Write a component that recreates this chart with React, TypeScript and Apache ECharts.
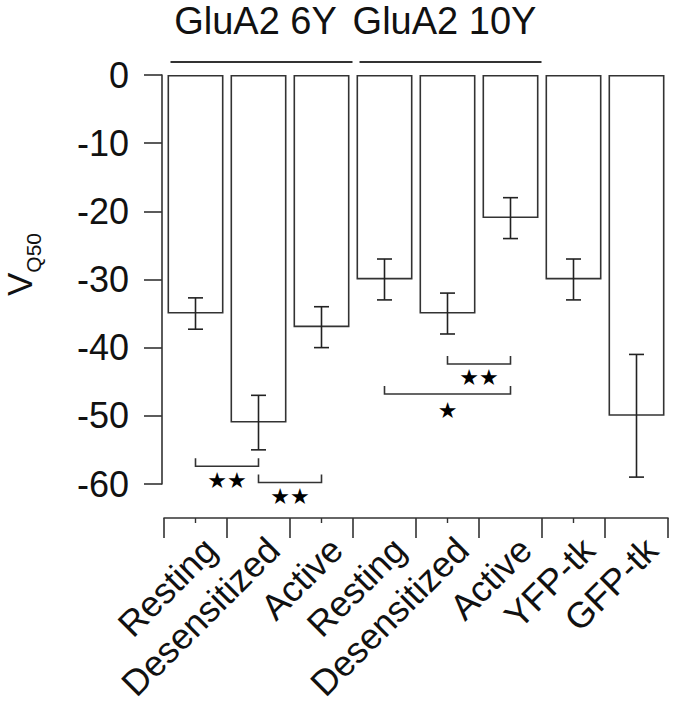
import React, { useEffect, useRef } from 'react';
import * as echarts from 'echarts';

const categories = ['Resting', 'Desensitized', 'Active', 'Resting', 'Desensitized', 'Active', 'YFP-tk', 'GFP-tk'];
const means = [-35, -51, -37, -30, -35, -21, -30, -50];
const errors = [2.3, 4, 3, 3, 3, 3, 3, 9];
const yTicks = [0, -10, -20, -30, -40, -50, -60];

const groupLabels = ['GluA2 6Y', 'GluA2 10Y'];
const groupStart = [0, 3];
const groupEnd = [2, 5];

const sigFrom = [0, 1, 4, 3];
const sigTo = [1, 2, 5, 5];
const sigY = [-57.4, -59.8, -42.4, -46.8];
const sigLabels = ['★★', '★★', '★★', '★'];

const FONT = '"Liberation Sans", Arial, Helvetica, sans-serif';
const INK = '#333';

export default function App() {
  const ref = useRef<HTMLDivElement>(null);
  useEffect(() => {
    const chart = echarts.init(ref.current!, null, { renderer: 'svg' });
    const option: any = {
      animation: false,
      backgroundColor: '#fff',
      grid: [
        { left: 164, top: 75, width: 504, height: 443, containLabel: false, outerBoundsMode: 'none' },
        { left: 162, top: 75, width: 2, height: 409, containLabel: false, outerBoundsMode: 'none' },
      ],
      xAxis: [
        {
          type: 'category',
          gridIndex: 0,
          data: categories,
          position: 'bottom',
          axisLine: { show: true, onZero: false, lineStyle: { color: INK, width: 1.6 } },
          axisTick: { show: true, length: 20, lineStyle: { color: INK, width: 1.6 } },
          axisLabel: {
            interval: 0,
            rotate: 45,
            fontSize: 36,
            fontFamily: FONT,
            color: '#111',
            margin: 11,
            align: 'right',
            verticalAlign: 'top',
            lineHeight: 42,
          },
        },
        {
          type: 'category',
          gridIndex: 0,
          data: categories,
          position: 'bottom',
          axisLine: { show: false, onZero: false },
          axisTick: { show: true, alignWithLabel: true, length: 5, lineStyle: { color: INK, width: 1.4 } },
          axisLabel: { show: false },
        },
        { type: 'value', gridIndex: 1, show: false },
      ],
      yAxis: [
        { type: 'value', gridIndex: 0, min: -65, max: 0, show: false },
        {
          type: 'value',
          gridIndex: 1,
          min: -60,
          max: 0,
          interval: 10,
          position: 'left',
          axisLine: { show: true, lineStyle: { color: INK, width: 1.6 } },
          axisTick: { show: true, length: 18, lineStyle: { color: INK, width: 1.6 } },
          splitLine: { show: false },
          axisLabel: {
            fontSize: 36,
            fontFamily: FONT,
            color: '#111',
            margin: 33,
            formatter: (v: number) => (yTicks.includes(v) ? String(v) : ''),
          },
        },
      ],
      graphic: [
        {
          type: 'text',
          x: 19.5,
          y: 264.5,
          rotation: Math.PI / 2,
          style: {
            text: '{v|V}{s|Q50}',
            x: 0,
            y: 0,
            align: 'center',
            verticalAlign: 'middle',
            fill: '#111',
            fontFamily: FONT,
            rich: {
              v: { fontSize: 35, lineHeight: 48, fontFamily: FONT, fill: '#111' },
              s: { fontSize: 21, lineHeight: 14, verticalAlign: 'bottom', fontFamily: FONT, fill: '#111' },
            },
          },
        },
      ],
      series: [
        {
          type: 'bar',
          xAxisIndex: 0,
          yAxisIndex: 0,
          data: means,
          barWidth: 56,
          itemStyle: { color: '#fff', borderColor: '#333', borderWidth: 1.6 },
          z: 2,
        },
        {
          type: 'custom',
          xAxisIndex: 0,
          yAxisIndex: 0,
          z: 5,
          clip: false,
          data: means.map((m, i) => [i, m, errors[i]]),
          encode: { x: 0, y: 1 },
          renderItem: (params: any, api: any) => {
            const x = api.value(0);
            const m = api.value(1);
            const e = api.value(2);
            const t = api.coord([x, m + e]);
            const b = api.coord([x, m - e]);
            const hw = 7.5;
            const st = { stroke: '#222', lineWidth: 1.6 };
            return {
              type: 'group',
              children: [
                { type: 'line', shape: { x1: t[0], y1: t[1], x2: b[0], y2: b[1] }, style: st },
                { type: 'line', shape: { x1: t[0] - hw, y1: t[1], x2: t[0] + hw, y2: t[1] }, style: st },
                { type: 'line', shape: { x1: b[0] - hw, y1: b[1], x2: b[0] + hw, y2: b[1] }, style: st },
              ],
            };
          },
        },
        {
          type: 'custom',
          xAxisIndex: 0,
          yAxisIndex: 0,
          z: 5,
          clip: false,
          data: sigY.map((y, i) => [sigFrom[i], y, sigTo[i]]),
          encode: { x: 0, y: 1 },
          renderItem: (params: any, api: any) => {
            const a = api.coord([api.value(0), api.value(1)]);
            const b = api.coord([api.value(2), api.value(1)]);
            const tick = 8;
            const label = sigLabels[params.dataIndex];
            return {
              type: 'group',
              children: [
                {
                  type: 'polyline',
                  shape: { points: [[a[0], a[1] - tick], [a[0], a[1]], [b[0], b[1]], [b[0], b[1] - tick]] },
                  style: { stroke: '#333', lineWidth: 1.6, fill: 'none' },
                },
                {
                  type: 'text',
                  style: {
                    text: label,
                    x: (a[0] + b[0]) / 2,
                    y: a[1] + (label.length === 1 ? 17 : 14),
                    fontSize: 22,
                    fontFamily: '"DejaVu Sans", sans-serif',
                    fill: '#000',
                    align: 'center',
                    verticalAlign: 'middle',
                    textAlign: 'center',
                    textVerticalAlign: 'middle',
                  },
                },
              ],
            };
          },
        },
        {
          type: 'custom',
          xAxisIndex: 0,
          yAxisIndex: 0,
          z: 5,
          clip: false,
          data: groupLabels.map((g, i) => [groupStart[i], 0, groupEnd[i]]),
          encode: { x: 0, y: 1 },
          renderItem: (params: any, api: any) => {
            const s = api.coord([api.value(0), 0]);
            const e = api.coord([api.value(2), 0]);
            const mid = api.coord([(api.value(0) + api.value(2)) / 2, 0]);
            return {
              type: 'group',
              children: [
                {
                  type: 'line',
                  shape: { x1: s[0] - 25, y1: s[1] - 13, x2: e[0] + 31, y2: s[1] - 13 },
                  style: { stroke: '#333', lineWidth: 2 },
                },
                {
                  type: 'text',
                  style: {
                    text: groupLabels[params.dataIndex],
                    x: mid[0] - 3,
                    y: s[1] - 54,
                    fontSize: 38,
                    fontFamily: FONT,
                    fill: '#111',
                    align: 'center',
                    verticalAlign: 'middle',
                    textAlign: 'center',
                    textVerticalAlign: 'middle',
                  },
                },
              ],
            };
          },
        },
      ],
    };
    chart.setOption(option);
    return () => chart.dispose();
  }, []);
  return <div ref={ref} style={{ position: 'absolute', left: 0, top: 0, width: 677, height: 705 }} />;
}
